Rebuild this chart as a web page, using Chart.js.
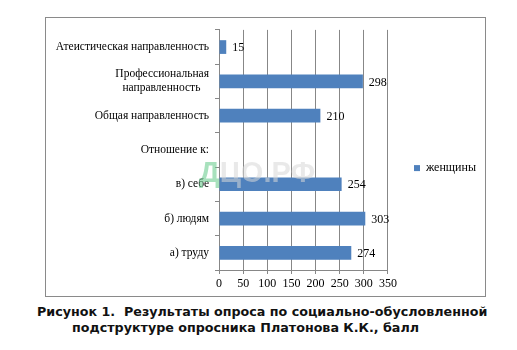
<!DOCTYPE html>
<html lang="ru">
<head>
<meta charset="utf-8">
<script src="https://cdn.jsdelivr.net/npm/chart.js@4"></script>
<style>
  html, body { margin: 0; padding: 0; background: #fff; }
  body { width: 517px; height: 350px; position: relative; overflow: hidden; }
  #frame { position: absolute; left: 45px; top: 17px; width: 441px; height: 280px;
           box-sizing: border-box; border: 1px solid #8a8a8a; }
  #chart { position: absolute; left: 45px; top: 17px; }
  .caption { position: absolute; font-family: "DejaVu Sans", sans-serif; font-weight: bold;
             font-size: 12.7px; line-height: 16px; color: #111; white-space: pre; }
  #mark { position: absolute; left: 199px; top: 158px; font-family: "Liberation Sans", Arial, sans-serif;
          font-weight: bold; font-size: 29px; line-height: 1; white-space: pre; pointer-events: none; }
  #mark .d { color: rgba(110, 205, 145, 0.6); }
  #mark .r { color: rgba(215, 215, 215, 0.55); }
</style>
</head>
<body>
<div id="frame"></div>
<canvas id="chart" width="472" height="280"></canvas>
<div id="mark"><span class="d">Д</span><span class="r">ЦО.РФ</span></div>
<div class="caption" style="left:37px; top:304px;">Рисунок 1.</div>
<div class="caption" style="left:124px; top:304px;">Результаты опроса по социально-обусловленной</div>
<div class="caption" style="left:72px; top:320px;">подструктуре опросника Платонова К.К., балл</div>
<script>
// Categories, top to bottom
const categories = [
  'Атеистическая направленность',
  ['Профессиональная', 'направленность\u00a0\u00a0\u00a0'],
  'Общая направленность',
  'Отношение к:',
  'в) себе',
  'б) людям',
  'а) труду'
];
const seriesName = 'женщины';
const womenScores = [15, 298, 210, null, 254, 303, 274];
const xTicks = [0, 50, 100, 150, 200, 250, 300, 350];

const SERIF = '"Liberation Serif", "Times New Roman", serif';
const GRID = '#878787';
const BAR = '#4f81bd';

// Value labels at the end of each bar
const barValues = {
  id: 'barValues',
  afterDatasetsDraw(chart) {
    const ctx = chart.ctx;
    ctx.save();
    ctx.font = '12px ' + SERIF;
    ctx.fillStyle = '#000';
    ctx.textAlign = 'left';
    ctx.textBaseline = 'middle';
    chart.getDatasetMeta(0).data.forEach((bar, i) => {
      const v = womenScores[i];
      if (v === null) return;
      ctx.fillText(String(v), bar.x + 6, bar.y + 1);
    });
    ctx.restore();
  }
};

new Chart(document.getElementById('chart'), {
  type: 'bar',
  data: {
    labels: categories,
    datasets: [{
      label: seriesName,
      data: womenScores,
      backgroundColor: BAR,
      borderWidth: 0,
      categoryPercentage: 0.8,
      barPercentage: 0.5
    }]
  },
  options: {
    indexAxis: 'y',
    responsive: false,
    animation: false,
    devicePixelRatio: 1,
    layout: { padding: { top: 11, bottom: 5, left: 7, right: 31 } },
    scales: {
      x: {
        min: xTicks[0],
        max: xTicks[xTicks.length - 1],
        afterBuildTicks(scale) { scale.ticks = xTicks.map(v => ({ value: v })); },
        afterFit(scale) { scale.height = 22; },
        ticks: { font: { family: SERIF, size: 12 }, color: '#000', padding: 3, maxRotation: 0 },
        grid: { color: GRID, tickLength: 4, lineWidth: 1 },
        border: { color: GRID }
      },
      y: {
        afterFit(scale) { scale.width = 167; },
        ticks: { font: { family: SERIF, size: 11.5 }, color: '#000', padding: 6 },
        grid: { drawOnChartArea: false, color: GRID, tickLength: 4 },
        border: { color: GRID }
      }
    },
    plugins: {
      legend: {
        position: 'right',
        align: 'center',
        title: { display: true, text: '', font: { size: 1 }, padding: { top: 0, bottom: 15 } },
        labels: {
          boxWidth: 6, boxHeight: 6, padding: 26,
          font: { family: SERIF, size: 12 }, color: '#000'
        }
      },
      tooltip: { enabled: false }
    }
  },
  plugins: [barValues]
});
</script>
</body>
</html>
